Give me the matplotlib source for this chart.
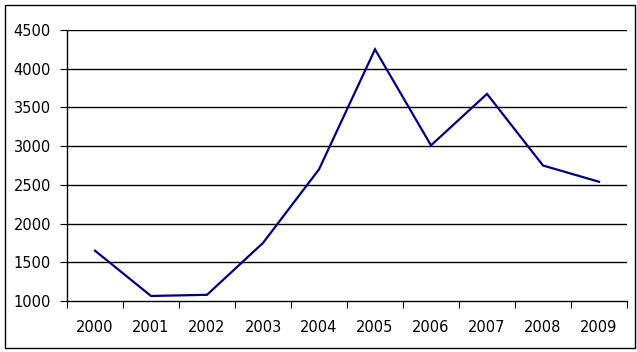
import matplotlib
matplotlib.use("Agg")
import matplotlib.pyplot as plt
from matplotlib.patches import Rectangle
import numpy as np

years = ["2000", "2001", "2002", "2003", "2004", "2005", "2006", "2007", "2008", "2009"]
values = [1650, 1065, 1080, 1750, 2700, 4250, 3010, 3675, 2750, 2540]
yticks = [1000, 1500, 2000, 2500, 3000, 3500, 4000, 4500]

W, H = 637, 352
fig = plt.figure(figsize=(W / 100, H / 100), dpi=100)
ax = fig.add_axes([67 / W, (H - 301) / H, (627 - 67) / W, (301 - 30) / H])

x = np.arange(len(years))
ax.plot(x, values, color="#000080", lw=1.6, solid_joinstyle="miter")

ax.set_xlim(-0.5, len(years) - 0.5)
ax.set_ylim(1000, 4500)
ax.set_yticks(yticks)
ax.set_yticklabels([str(v) for v in yticks], fontsize=10.5, family="DejaVu Sans")
ax.tick_params(axis="y", direction="out", length=5, width=0.8, pad=6.5, color="black")

# major ticks at category boundaries, labels at centres
ax.set_xticks(np.arange(-0.5, len(years), 1.0))
ax.set_xticklabels([])
ax.tick_params(axis="x", which="major", direction="out", length=5, width=0.8, color="black")
ax.set_xticks(x, minor=True)
ax.set_xticklabels(years, minor=True, fontsize=10.5, family="DejaVu Sans")
ax.tick_params(axis="x", which="minor", length=0, pad=14)

for v in yticks[1:]:
    ax.axhline(v, color="black", lw=1.0, zorder=0)

for s in ["top", "right"]:
    ax.spines[s].set_visible(False)
for s in ["left", "bottom"]:
    ax.spines[s].set_color("black")
    ax.spines[s].set_linewidth(1.0)

fig.patches.append(Rectangle((5 / W, (H - 348) / H), (635 - 5) / W, (348 - 5) / H,
                             transform=fig.transFigure, fill=False, ec="black", lw=1.0))

fig.savefig("out.png", dpi=100, facecolor="white")
